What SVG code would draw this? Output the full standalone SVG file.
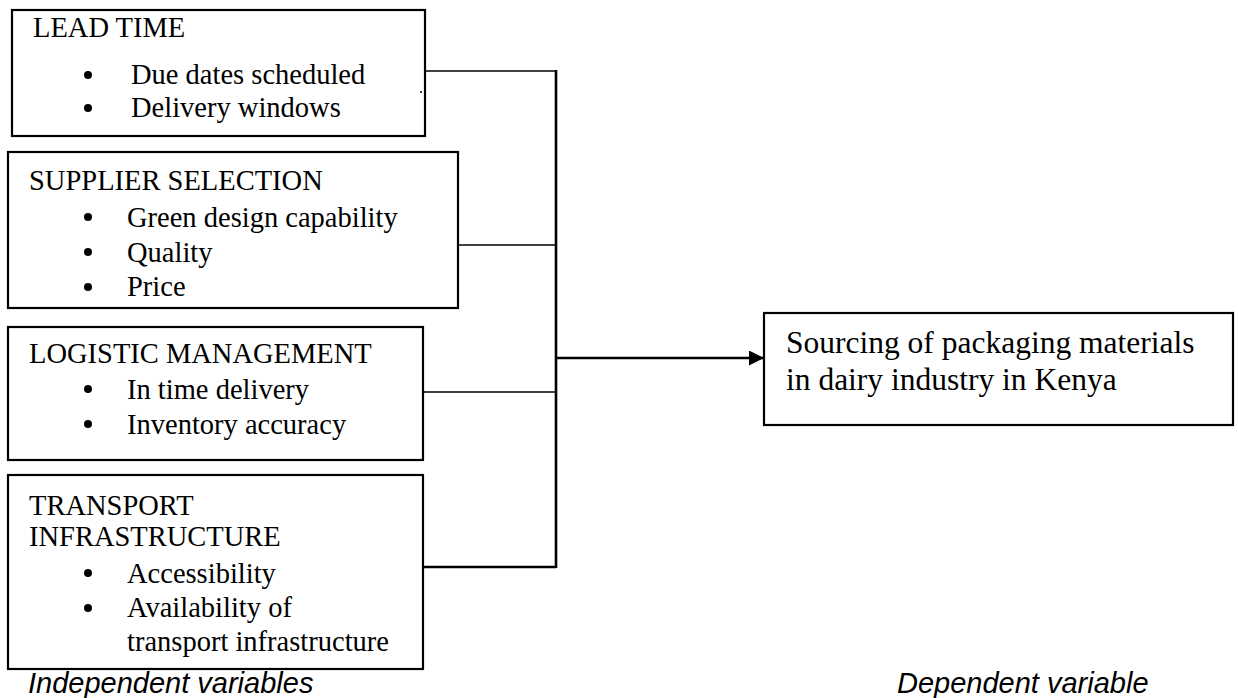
<svg xmlns="http://www.w3.org/2000/svg" width="1238" height="698" viewBox="0 0 1238 698">
<defs>
<style>
.box{fill:#fff;stroke:#000;stroke-width:2.2}
.t{font-family:"Liberation Serif","Times New Roman",serif;font-size:28.5px;fill:#000}
.t5{font-family:"Liberation Serif","Times New Roman",serif;font-size:31.5px;fill:#000}
.lbl{font-family:"Liberation Sans",Arial,sans-serif;font-size:29px;font-style:italic;fill:#000}
.c{stroke:#000;stroke-width:1.6;fill:none}
.v{stroke:#000;stroke-width:2.6;fill:none}
.b{fill:#000}
</style>
<marker id="ah" markerWidth="16" markerHeight="16" refX="15" refY="7.5" orient="auto" markerUnits="userSpaceOnUse">
<path d="M0,0 L15,7.5 L0,15 Z" fill="#000"/>
</marker>
</defs>
<rect width="1238" height="698" fill="#fff"/>
<g id="connectors">
<line class="c" x1="425" y1="71" x2="556" y2="71"/>
<line class="c" x1="458" y1="245" x2="556" y2="245"/>
<line class="c" x1="423" y1="392" x2="556" y2="392"/>
<line class="v" x1="423" y1="567" x2="556" y2="567"/>
<line class="v" x1="556" y1="70" x2="556" y2="568"/>
<line class="v" x1="556" y1="358" x2="764" y2="358" marker-end="url(#ah)"/>
</g>
<g id="lead-time">
<rect class="box" x="12" y="10" width="413" height="126"/>
<text class="t" x="33" y="37">LEAD TIME</text>
<circle class="b" cx="88" cy="75" r="4"/>
<text class="t" x="131" y="84">Due dates scheduled</text>
<circle class="b" cx="88" cy="108" r="4"/>
<text class="t" x="131" y="117">Delivery windows</text>
<circle class="b" cx="421" cy="92" r="1"/>
</g>
<g id="supplier-selection">
<rect class="box" x="8" y="152" width="450" height="156"/>
<text class="t" x="29" y="190">SUPPLIER SELECTION</text>
<circle class="b" cx="88" cy="217" r="4"/>
<text class="t" x="127" y="227">Green design capability</text>
<circle class="b" cx="88" cy="252" r="4"/>
<text class="t" x="127" y="262">Quality</text>
<circle class="b" cx="88" cy="287" r="4"/>
<text class="t" x="127" y="296">Price</text>
</g>
<g id="logistic-management">
<rect class="box" x="8" y="327" width="415" height="133"/>
<text class="t" x="29" y="363">LOGISTIC MANAGEMENT</text>
<circle class="b" cx="88" cy="389" r="4"/>
<text class="t" x="127" y="399">In time delivery</text>
<circle class="b" cx="88" cy="424" r="4"/>
<text class="t" x="127" y="434">Inventory accuracy</text>
</g>
<g id="transport-infrastructure">
<rect class="box" x="8" y="475" width="415" height="194"/>
<text class="t" x="29" y="515">TRANSPORT</text>
<text class="t" x="29" y="546">INFRASTRUCTURE</text>
<circle class="b" cx="88" cy="573" r="4"/>
<text class="t" x="127" y="583">Accessibility</text>
<circle class="b" cx="88" cy="608" r="4"/>
<text class="t" x="127" y="617">Availability of</text>
<text class="t" x="127" y="651">transport infrastructure</text>
</g>
<g id="sourcing">
<rect class="box" x="764" y="313" width="469" height="112"/>
<text class="t5" x="786" y="353">Sourcing of packaging materials</text>
<text class="t5" x="786" y="390">in dairy industry in Kenya</text>
</g>
<g id="labels">
<text class="lbl" x="28" y="693">Independent variables</text>
<text class="lbl" x="897" y="693">Dependent variable</text>
</g>
</svg>
